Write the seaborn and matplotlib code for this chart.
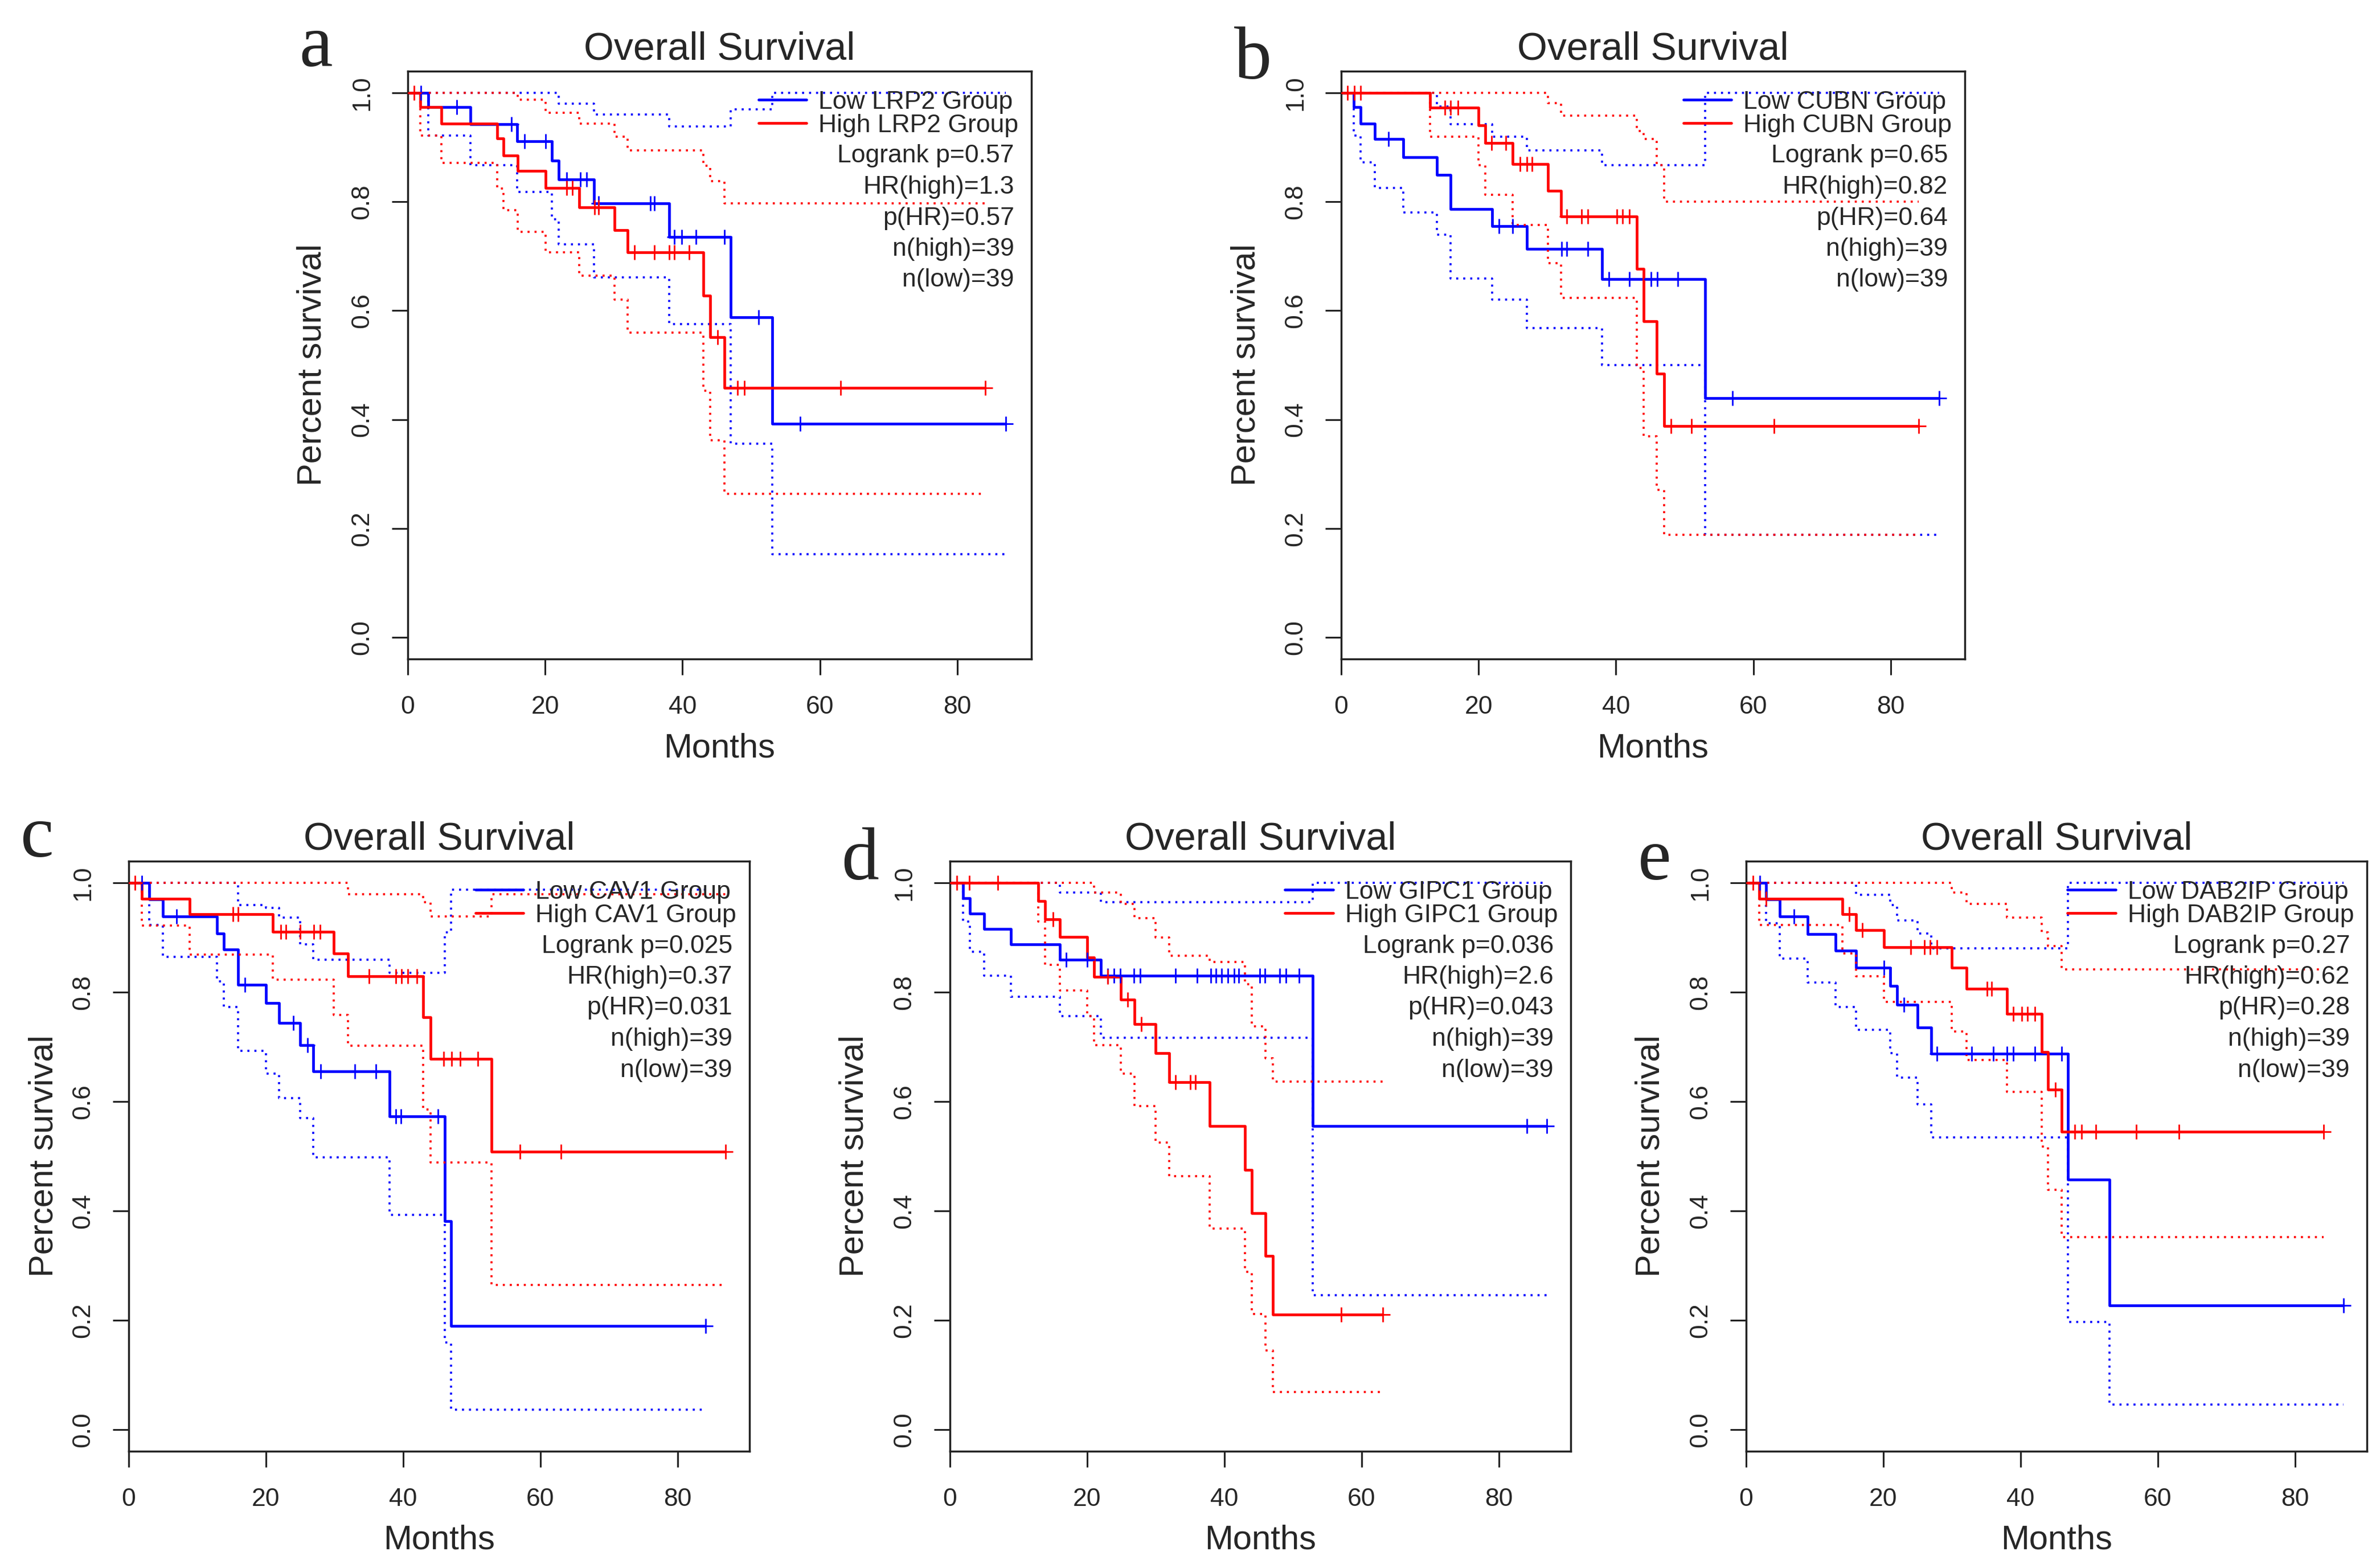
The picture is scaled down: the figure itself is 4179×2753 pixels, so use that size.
import numpy as np
import pandas as pd
import matplotlib
matplotlib.use("Agg")
import matplotlib.pyplot as plt
import seaborn as sns

# ---------------- data ----------------
# panel a : LRP2
a_low_t = [3.0, 9.1, 15.9, 21.0, 22.0, 27.1, 38.1, 47.0, 53.1]
a_low_s = [0.974, 0.943, 0.911, 0.876, 0.841, 0.797, 0.735, 0.588, 0.392]
a_low_up = [1.0, 1.0, 1.0, 1.0, 0.980, 0.960, 0.939, 0.970, 1.0]
a_low_lo = [0.922, 0.867, 0.818, 0.768, 0.722, 0.661, 0.575, 0.356, 0.153]
a_low_cens = [1.9, 7.1, 15.1, 17.0, 20.1, 23.1, 25.1, 26.0, 27.8, 35.3, 35.9, 38.8, 39.9, 42.0, 46.1, 51.1, 57.1, 87.1]
a_high_t = [1.8, 4.9, 13.0, 13.9, 16.0, 20.1, 25.0, 30.1, 32.0, 43.0, 44.0, 46.1]
a_high_s = [0.974, 0.944, 0.916, 0.885, 0.857, 0.825, 0.790, 0.748, 0.707, 0.628, 0.551, 0.458]
a_high_up = [1.0, 1.0, 1.0, 1.0, 0.988, 0.964, 0.944, 0.920, 0.895, 0.866, 0.838, 0.797]
a_high_lo = [0.922, 0.871, 0.824, 0.785, 0.745, 0.707, 0.664, 0.620, 0.560, 0.453, 0.362, 0.264]
a_high_cens = [0.9, 23.1, 24.0, 27.2, 27.8, 33.0, 35.9, 38.1, 38.8, 41.0, 45.1, 48.0, 49.0, 63.0, 84.1]
a_stats = ["Logrank p=0.57", "HR(high)=1.3", "p(HR)=0.57", "n(high)=39", "n(low)=39"]

# panel b : CUBN
b_low_t = [1.8, 2.8, 4.9, 9.0, 13.9, 15.9, 22.0, 27.0, 38.0, 53.0]
b_low_s = [0.974, 0.944, 0.915, 0.882, 0.850, 0.787, 0.755, 0.713, 0.658, 0.439]
b_low_up = [1.0, 1.0, 1.0, 1.0, 0.975, 0.943, 0.920, 0.895, 0.867, 1.0]
b_low_lo = [0.922, 0.873, 0.825, 0.780, 0.740, 0.659, 0.620, 0.568, 0.500, 0.188]
b_low_cens = [6.9, 23.0, 25.0, 32.1, 32.8, 35.9, 39.0, 42.0, 45.1, 46.0, 49.0, 57.0, 87.1]
b_high_t = [12.9, 20.0, 21.0, 25.0, 30.1, 32.0, 43.0, 44.0, 45.9, 47.0]
b_high_s = [0.973, 0.941, 0.908, 0.869, 0.820, 0.773, 0.677, 0.581, 0.484, 0.388]
b_high_up = [1.0, 1.0, 1.0, 1.0, 0.981, 0.958, 0.930, 0.915, 0.867, 0.800]
b_high_lo = [0.920, 0.867, 0.813, 0.757, 0.687, 0.624, 0.495, 0.369, 0.271, 0.188]
b_high_cens = [0.9, 1.9, 2.8, 15.1, 15.9, 17.0, 21.9, 24.0, 26.0, 27.0, 27.8, 32.8, 35.0, 35.9, 40.1, 41.0, 42.0, 48.0, 51.0, 63.0, 84.1]
b_stats = ["Logrank p=0.65", "HR(high)=0.82", "p(HR)=0.64", "n(high)=39", "n(low)=39"]

# panel c : CAV1
c_low_t = [3.0, 5.0, 12.9, 13.9, 15.9, 20.0, 21.9, 25.0, 26.9, 38.0, 46.1, 47.0]
c_low_s = [0.970, 0.939, 0.908, 0.878, 0.814, 0.780, 0.744, 0.703, 0.655, 0.573, 0.381, 0.189]
c_low_up = [1.0, 1.0, 1.0, 1.0, 0.960, 0.955, 0.937, 0.888, 0.860, 0.836, 0.910, 0.988]
c_low_lo = [0.923, 0.865, 0.820, 0.773, 0.693, 0.651, 0.606, 0.570, 0.498, 0.393, 0.159, 0.036]
c_low_cens = [1.9, 7.0, 16.9, 24.0, 26.1, 28.0, 33.0, 36.0, 38.9, 39.7, 45.1, 84.1]
c_high_t = [1.95, 8.9, 21.0, 29.9, 32.0, 42.9, 44.0, 52.9]
c_high_s = [0.971, 0.943, 0.911, 0.871, 0.829, 0.754, 0.678, 0.508]
c_high_up = [1.0, 1.0, 1.0, 1.0, 0.980, 0.965, 0.939, 0.980]
c_high_lo = [0.922, 0.869, 0.823, 0.759, 0.702, 0.586, 0.489, 0.264]
c_high_cens = [0.9, 15.2, 15.9, 22.2, 22.9, 25.0, 27.0, 27.9, 35.0, 38.9, 39.8, 40.7, 42.0, 45.9, 47.1, 48.3, 50.9, 57.0, 63.0, 87.0]
c_stats = ["Logrank p=0.025", "HR(high)=0.37", "p(HR)=0.031", "n(high)=39", "n(low)=39"]

# panel d : GIPC1
d_low_t = [1.9, 2.9, 5.0, 8.9, 16.0, 22.0, 52.9]
d_low_s = [0.972, 0.944, 0.916, 0.888, 0.860, 0.830, 0.555]
d_low_up = [1.0, 1.0, 1.0, 1.0, 0.983, 0.965, 1.0]
d_low_lo = [0.930, 0.874, 0.830, 0.792, 0.756, 0.717, 0.246]
d_low_cens = [16.9, 20.0, 23.0, 23.9, 24.8, 26.8, 27.7, 32.9, 36.0, 38.0, 38.8, 39.6, 40.5, 41.4, 42.1, 45.2, 45.9, 48.1, 49.0, 50.9, 84.1, 87.0]
d_high_t = [12.9, 13.9, 16.0, 20.0, 21.0, 24.9, 26.9, 30.0, 32.0, 37.9, 43.0, 44.0, 46.0, 47.1]
d_high_s = [0.967, 0.934, 0.901, 0.864, 0.828, 0.787, 0.742, 0.689, 0.636, 0.555, 0.475, 0.396, 0.318, 0.210]
d_high_up = [1.0, 1.0, 1.0, 1.0, 0.983, 0.962, 0.936, 0.900, 0.867, 0.855, 0.815, 0.738, 0.679, 0.637]
d_high_lo = [0.929, 0.850, 0.803, 0.756, 0.703, 0.651, 0.592, 0.525, 0.464, 0.368, 0.288, 0.211, 0.145, 0.068]
d_high_cens = [1.0, 2.8, 7.0, 15.0, 23.0, 25.9, 27.9, 32.9, 35.0, 35.8, 57.0, 63.1]
d_stats = ["Logrank p=0.036", "HR(high)=2.6", "p(HR)=0.043", "n(high)=39", "n(low)=39"]

# panel e : DAB2IP
e_low_t = [2.9, 4.9, 9.0, 13.0, 16.0, 21.0, 22.0, 25.0, 27.0, 46.9, 53.0]
e_low_s = [0.970, 0.939, 0.907, 0.876, 0.845, 0.812, 0.777, 0.736, 0.688, 0.457, 0.227]
e_low_up = [1.0, 1.0, 1.0, 1.0, 0.979, 0.960, 0.932, 0.908, 0.881, 1.0, 1.0]
e_low_lo = [0.926, 0.862, 0.818, 0.773, 0.731, 0.689, 0.644, 0.595, 0.534, 0.197, 0.046]
e_low_cens = [2.0, 7.0, 20.1, 23.0, 27.8, 32.9, 36.0, 38.0, 38.9, 42.1, 46.0, 87.1]
e_high_t = [1.9, 14.0, 16.0, 20.1, 30.0, 32.1, 38.0, 43.1, 44.0, 46.0]
e_high_s = [0.971, 0.943, 0.914, 0.883, 0.845, 0.806, 0.761, 0.691, 0.622, 0.545]
e_high_up = [1.0, 1.0, 1.0, 1.0, 0.983, 0.962, 0.937, 0.910, 0.885, 0.842]
e_high_lo = [0.923, 0.871, 0.829, 0.782, 0.728, 0.676, 0.618, 0.518, 0.439, 0.352]
e_high_cens = [1.0, 2.9, 15.0, 16.9, 24.0, 26.0, 26.8, 27.8, 35.1, 35.8, 38.9, 40.2, 41.0, 42.1, 45.1, 47.9, 48.9, 51.0, 56.9, 63.1, 84.2]
e_stats = ["Logrank p=0.27", "HR(high)=0.62", "p(HR)=0.28", "n(high)=39", "n(low)=39"]

genes = ["LRP2", "CUBN", "CAV1", "GIPC1", "DAB2IP"]
letters = ["a", "b", "c", "d", "e"]
x_ticks = [0, 20, 40, 60, 80]
y_ticks = [0.0, 0.2, 0.4, 0.6, 0.8, 1.0]
y_tick_labels = ["0.0", "0.2", "0.4", "0.6", "0.8", "1.0"]

# ---------------- style ----------------
sns.set_style("ticks")
plt.rcParams["font.family"] = ["Liberation Sans", "DejaVu Sans"]
BLUE = "#0000FF"
RED = "#FF0000"

W, H = 4179, 2753
fig = plt.figure(figsize=(W / 100, H / 100), dpi=100)

# axes rectangles in pixels: left, top, width, height
rects = [(716, 125, 1095, 1032), (2355, 125, 1095, 1032),
         (226, 1512, 1090, 1036), (1668, 1512, 1090, 1036), (3066, 1512, 1090, 1036)]
xmax = [90.8, 90.8, 90.5, 90.5, 90.5]
ylab_off = [140, 140, 121, 140, 140]
letter_pos = [(555, 116), (2200, 138), (65, 1504), (1510, 1544), (2905, 1544)]

panels = [
    ((a_low_t, a_low_s, a_low_up, a_low_lo, a_low_cens), (a_high_t, a_high_s, a_high_up, a_high_lo, a_high_cens), a_stats),
    ((b_low_t, b_low_s, b_low_up, b_low_lo, b_low_cens), (b_high_t, b_high_s, b_high_up, b_high_lo, b_high_cens), b_stats),
    ((c_low_t, c_low_s, c_low_up, c_low_lo, c_low_cens), (c_high_t, c_high_s, c_high_up, c_high_lo, c_high_cens), c_stats),
    ((d_low_t, d_low_s, d_low_up, d_low_lo, d_low_cens), (d_high_t, d_high_s, d_high_up, d_high_lo, d_high_cens), d_stats),
    ((e_low_t, e_low_s, e_low_up, e_low_lo, e_low_cens), (e_high_t, e_high_s, e_high_up, e_high_lo, e_high_cens), e_stats),
]


def step_frame(times, vals, t_end):
    x = np.r_[0.0, np.asarray(times, float), t_end]
    y = np.r_[1.0, np.asarray(vals, float), vals[-1]]
    return pd.DataFrame({"Months": x, "Survival": y})


PX = 0.72  # points per pixel at dpi 100

for i, (low, high, stats) in enumerate(panels):
    l, t, w, h = rects[i]
    ax = fig.add_axes([l / W, 1 - (t + h) / H, w / W, h / H])
    gene = genes[i]
    for grp, color, lab in ((low, BLUE, f"Low {gene} Group"), (high, RED, f"High {gene} Group")):
        tt, ss, up, lo, cens = grp
        t_end = max(max(cens), tt[-1])
        for band in (up, lo):
            sns.lineplot(data=step_frame(tt, band, t_end), x="Months", y="Survival",
                         drawstyle="steps-post", estimator=None, sort=False,
                         color=color, lw=2.6, linestyle=(0, (1, 2.4)), ax=ax,
                         label="_nolegend_", legend=False)
        sns.lineplot(data=step_frame(tt, ss, t_end), x="Months", y="Survival",
                     drawstyle="steps-post", estimator=None, sort=False,
                     color=color, lw=3.4, ax=ax, label=lab, legend=False)
        cs = np.r_[1.0, ss][np.searchsorted(tt, cens, side="right")]
        sns.scatterplot(x=cens, y=cs, marker="+", s=340, linewidth=2.0, color=color,
                        ax=ax, zorder=3, legend=False)

    ax.set_xlim(0, xmax[i])
    ax.set_ylim(-0.04, 1.04)
    ax.set_xticks(x_ticks)
    ax.set_xticklabels([str(v) for v in x_ticks])
    ax.set_yticks(y_ticks)
    ax.set_yticklabels(y_tick_labels)
    plt.setp(ax.get_yticklabels(), rotation=90, va="center")
    ax.tick_params(axis="both", labelsize=32, length=20, width=2.2, direction="out", color="#222222")
    ax.tick_params(axis="y", pad=23)
    ax.tick_params(axis="x", pad=26)
    for sp in ax.spines.values():
        sp.set_linewidth(2.5)
        sp.set_color("#222222")
    ax.set_xlabel("Months", fontsize=43)
    ax.set_ylabel("Percent survival", fontsize=43)
    ax.xaxis.set_label_coords(0.5, -129 / h)
    ax.yaxis.set_label_coords(-ylab_off[i] / w, 0.5)
    ax.set_title("Overall Survival", fontsize=49, pad=15)

    handles = [ln for ln in ax.get_lines() if ln.get_label() in (f"Low {gene} Group", f"High {gene} Group")]
    ax.legend(handles=handles, labels=[hd.get_label() for hd in handles],
              loc="upper right", bbox_to_anchor=(1 - 23 / w, 1 - 34 / h),
              frameon=False, fontsize=32, handlelength=1.9, handletextpad=0.47,
              borderpad=0, borderaxespad=0, labelspacing=0.0)
    for k, txt in enumerate(stats):
        ax.annotate(txt, xy=(1, 1), xycoords="axes fraction",
                    xytext=(-30 * PX, -(149 + k * 54.5) * PX), textcoords="offset points",
                    ha="right", va="center", fontsize=32)

    lx, ly = letter_pos[i]
    fig.text(lx / W, 1 - ly / H, letters[i], fontsize=95, family=["Liberation Serif", "DejaVu Serif"],
             ha="center", va="baseline")

fig.savefig("out.png", dpi=100)
